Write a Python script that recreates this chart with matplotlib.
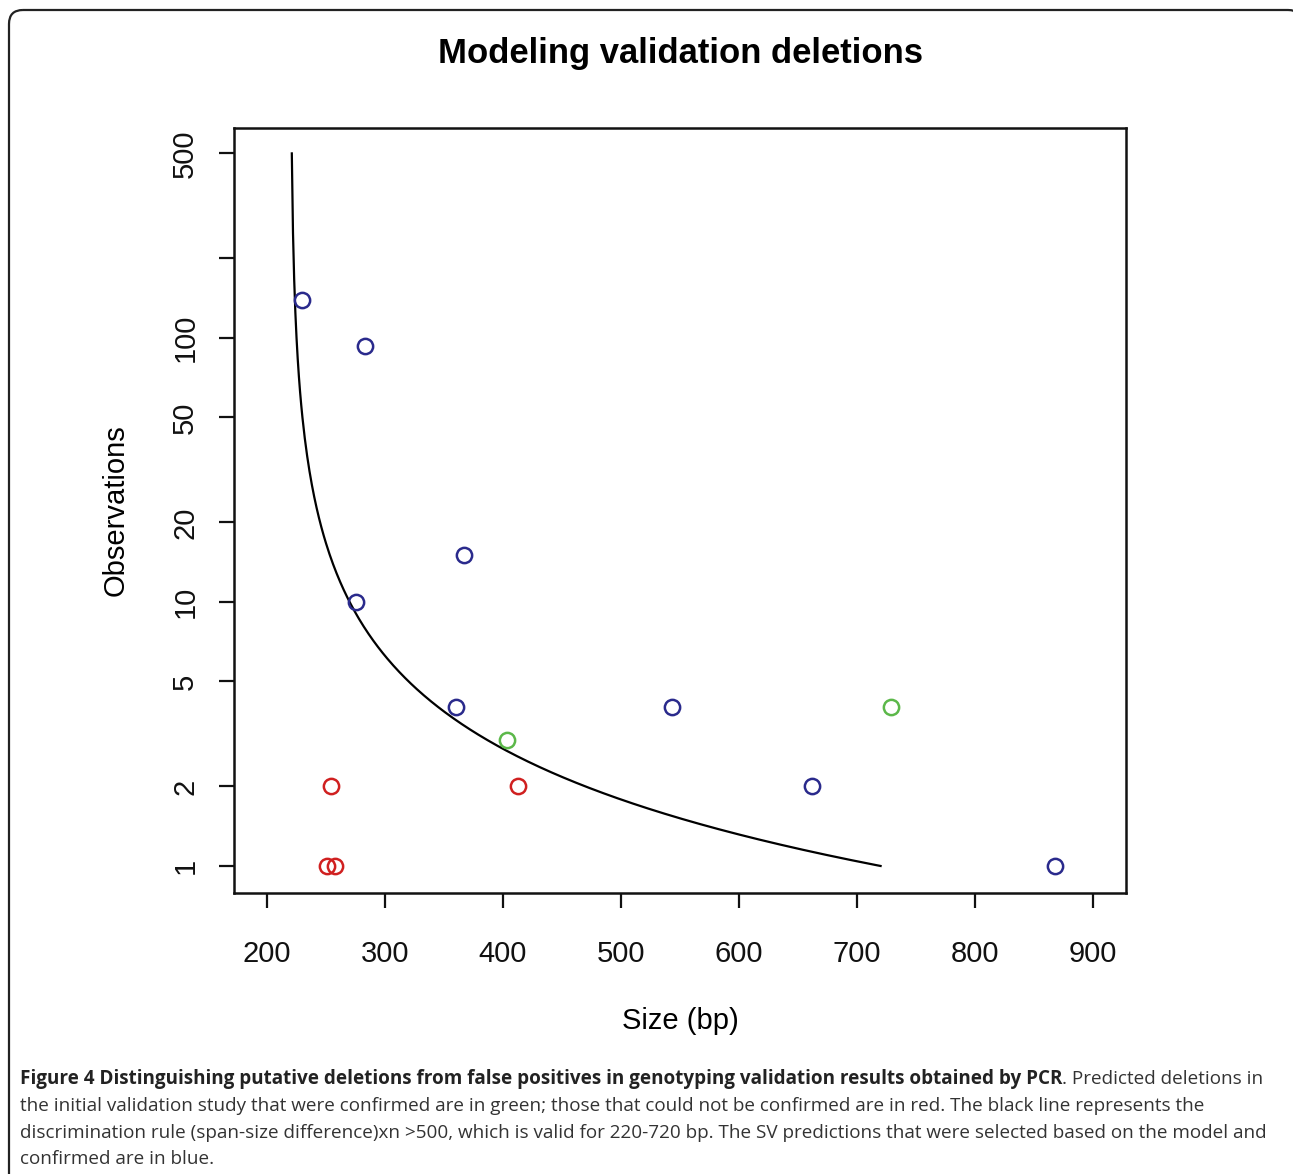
import numpy as np
import matplotlib
matplotlib.use('Agg')
import matplotlib.pyplot as plt
from matplotlib.patches import FancyBboxPatch

# Datos
azul_x = [230, 283, 367, 275, 360, 543, 662, 868]
azul_y = [139, 93, 15, 10, 4, 4, 2, 1]
verde_x = [729, 403]
verde_y = [4, 3]
rojo_x = [254, 413, 251, 258]
rojo_y = [2, 2, 1, 1]

# Regla de discriminacion: (diferencia)*n = 500, valida para 220-720 bp
regla_umbral = 500
regla_inicio = 221
regla_fin = 720

yticks = [1, 2, 5, 10, 20, 50, 100, 200, 500]
ytick_labels = ['1', '2', '5', '10', '20', '50', '100', '', '500']
xticks = [200, 300, 400, 500, 600, 700, 800, 900]

fig = plt.figure(figsize=(12.93, 11.74), dpi=100)

# Marco redondeado en pixeles (el borde derecho queda fuera de la imagen)
fondo = fig.add_axes([0, 0, 1, 1])
fondo.set_xlim(0, 1293)
fondo.set_ylim(1174, 0)
fondo.axis('off')
marco = FancyBboxPatch((9, 10), 1302 - 9, 1250, boxstyle='round,pad=0,rounding_size=14',
                       fill=False, edgecolor='#222222', linewidth=1.6)
fondo.add_patch(marco)

ax = fig.add_axes([234 / 1293, 1 - 893 / 1174, (1126 - 234) / 1293, (893 - 128) / 1174])

curva_x = np.arange(regla_inicio, regla_fin + 1)
curva_y = regla_umbral / (curva_x - 220)
ax.plot(curva_x, curva_y, color='black', linewidth=1.6)

kw = dict(marker='o', linestyle='none', markersize=11, markerfacecolor='none',
          markeredgewidth=1.8)
ax.plot(azul_x, azul_y, markeredgecolor='#2a2a8c', **kw)
ax.plot(verde_x, verde_y, markeredgecolor='#5cb84a', **kw)
ax.plot(rojo_x, rojo_y, markeredgecolor='#d02020', **kw)

ax.set_yscale('log')
ax.set_xlim(172, 928)
ax.set_ylim(0.79, 624)
ax.set_yticks(yticks)
ax.set_yticklabels(ytick_labels)
ax.minorticks_off()
ax.set_xticks(xticks)

fuente = 'Liberation Sans'
for lab in ax.get_yticklabels():
    lab.set_rotation(90)
    lab.set_va('center')
    lab.set_family(fuente)
for lab in ax.get_xticklabels():
    lab.set_family(fuente)
ax.tick_params(axis='both', direction='out', length=11, width=1.6,
               labelsize=21, colors='#111111')
ax.tick_params(axis='x', pad=23)
ax.tick_params(axis='y', pad=14)
for s in ax.spines.values():
    s.set_linewidth(1.8)
    s.set_color('#111111')

ax.set_xlabel('Size (bp)', fontsize=21, family=fuente, labelpad=28)
ax.set_ylabel('Observations', fontsize=21, family=fuente, labelpad=30)
fig.text(680 / 1293, 1 - 54 / 1174, 'Modeling validation deletions', ha='center',
         va='center', fontsize=24.9, fontweight='bold', family=fuente)

# Pie de figura
cap_fuente = 'Open Sans'
cap_size = 13.55
x0 = 20 / 1293
lineas_y = [1079, 1106, 1133, 1159]
renderer = fig.canvas.get_renderer()
t = fig.text(x0, 1 - lineas_y[0] / 1174,
             'Figure 4 Distinguishing putative deletions from false positives in genotyping validation results obtained by PCR',
             fontsize=cap_size, fontweight='bold', family=cap_fuente, va='center', color='#222222')
bb = t.get_window_extent(renderer=renderer)
fig.text(bb.x1 / fig.bbox.width, 1 - lineas_y[0] / 1174, '. Predicted deletions in',
         fontsize=cap_size, family=cap_fuente, va='center', color='#333333')
resto = [
    'the initial validation study that were confirmed are in green; those that could not be confirmed are in red. The black line represents the',
    'discrimination rule (span-size difference)xn >500, which is valid for 220-720 bp. The SV predictions that were selected based on the model and',
    'confirmed are in blue.',
]
for y, linea in zip(lineas_y[1:], resto):
    fig.text(x0, 1 - y / 1174, linea, fontsize=cap_size, family=cap_fuente,
             va='center', color='#333333')

fig.savefig('out.png', dpi=100)
